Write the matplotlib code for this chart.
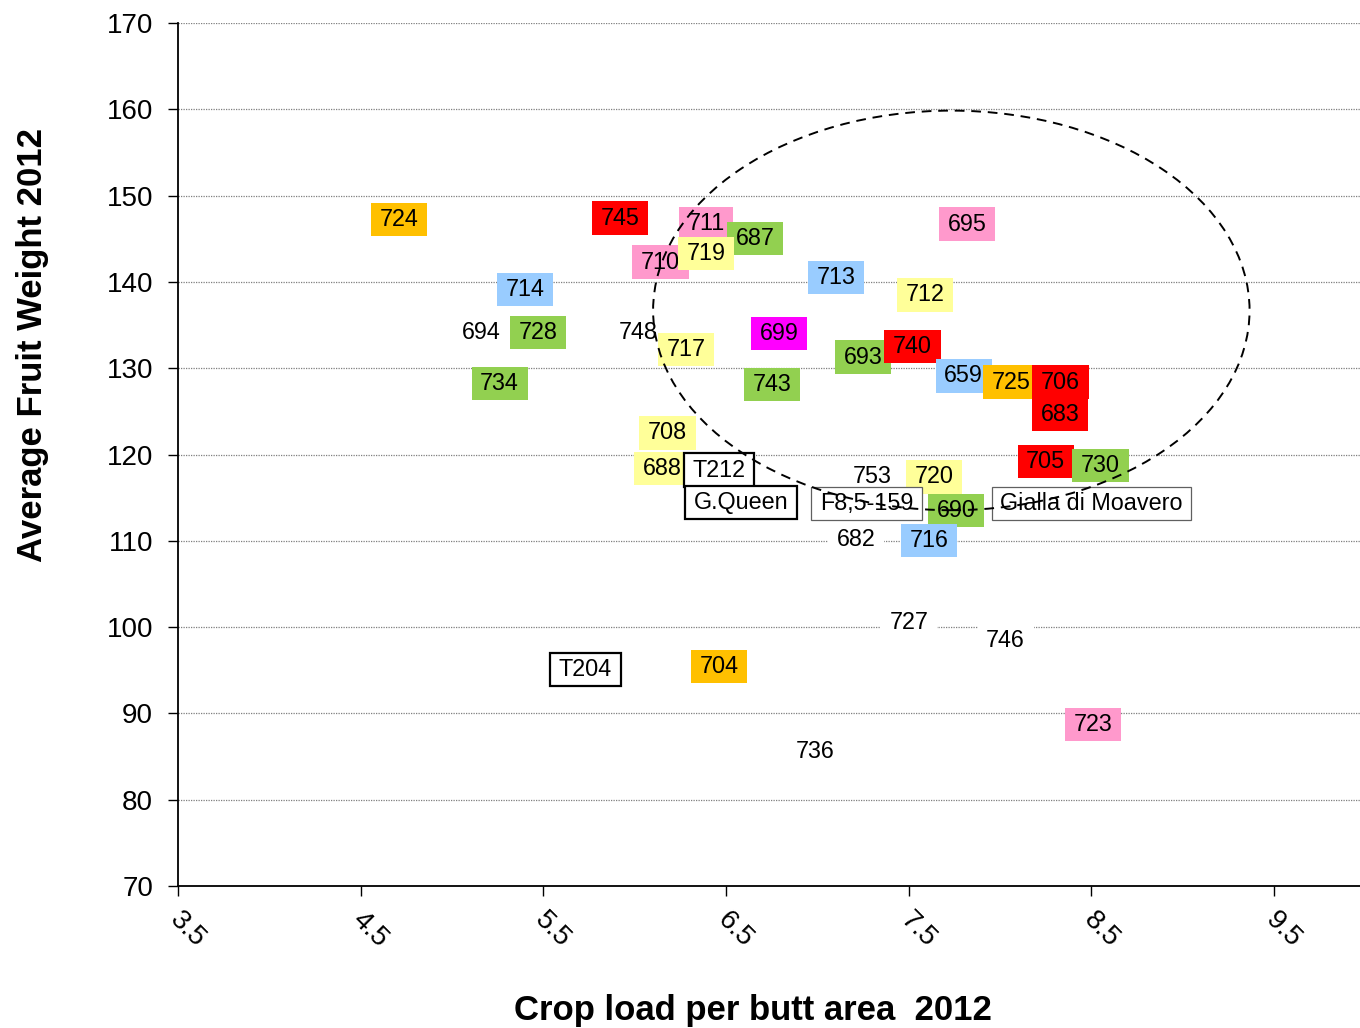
import matplotlib
matplotlib.use("Agg")
import matplotlib.pyplot as plt
import matplotlib.transforms as mtransforms
from matplotlib.patches import Ellipse
from matplotlib.path import Path

plt.rcParams['font.family'] = ['Liberation Sans', 'DejaVu Sans']

# ---- data ----
labels = ["724", "745", "711", "687", "710", "719", "695", "713", "712", "714",
          "694", "728", "748", "717", "699", "693", "740", "734", "743", "659",
          "725", "706", "683", "708", "688", "T212", "G.Queen", "753", "720",
          "F8,5-159", "690", "Gialla di Moavero", "682", "716", "705", "730",
          "727", "746", "T204", "704", "723", "736"]
crop_load = [4.71, 5.92, 6.39, 6.66, 6.14, 6.39, 7.82, 7.10, 7.59, 5.40,
             5.16, 5.47, 6.02, 6.28, 6.79, 7.25, 7.52, 5.26, 6.75, 7.80,
             8.06, 8.33, 8.33, 6.18, 6.15, 6.46, 6.58, 7.30, 7.64,
             7.27, 7.76, 8.50, 7.21, 7.61, 8.25, 8.55,
             7.50, 8.03, 5.73, 6.46, 8.51, 6.99]
fruit_weight = [147.2, 147.4, 146.8, 145.0, 142.3, 143.3, 146.7, 140.5, 138.5, 139.1,
                134.1, 134.1, 134.1, 132.2, 134.0, 131.3, 132.5, 128.2, 128.1, 129.1,
                128.4, 128.4, 124.6, 122.5, 118.4, 118.2, 114.4, 117.5, 117.4,
                114.3, 113.5, 114.3, 110.1, 110.0, 119.2, 118.7,
                100.5, 98.5, 95.1, 95.4, 88.7, 85.6]
group = ["orange", "red", "pink", "green", "pink", "yellow", "pink", "blue", "yellow", "blue",
         "none", "green", "none", "yellow", "magenta", "green", "red", "green", "green", "blue",
         "orange", "red", "red", "yellow", "yellow", "ref", "ref", "none", "yellow",
         "ref2", "green", "ref2", "none", "blue", "red", "green",
         "none", "none", "ref", "orange", "pink", "none"]

# highlighted cluster (ellipse): centre, width, height in data units
ellipse_center = (7.733, 136.7)
ellipse_size = (3.265, 46.3)

x_ticks = [3.5, 4.5, 5.5, 6.5, 7.5, 8.5, 9.5]
y_ticks = [70, 80, 90, 100, 110, 120, 130, 140, 150, 160, 170]

# ---- styles ----
fill_colors = {"orange": "#FFC000", "red": "#FF0000", "pink": "#FF99CC",
               "green": "#92D050", "yellow": "#FFFF99", "blue": "#99CCFF",
               "magenta": "#FF00FF", "none": "white", "ref": "white", "ref2": "white"}


def make_box(padx, pady):
    def box(x0, y0, width, height, mutation_size):
        px = padx * mutation_size
        py = pady * mutation_size
        xa, ya = x0 - px, y0 - py
        xb, yb = x0 + width + px, y0 + height + py
        return Path([(xa, ya), (xb, ya), (xb, yb), (xa, yb), (xa, ya)], closed=True)
    return box


fig = plt.figure(figsize=(13.6, 10.28), dpi=100)
ax = fig.add_axes([0.1309, 0.1381, 0.8691, 0.8395])

ax.set_xlim(3.5, 9.97)
ax.set_ylim(70, 170)
ax.set_xticks(x_ticks)
ax.set_xticklabels([f"{t:.1f}" for t in x_ticks], rotation=-45, ha='left',
                   va='top', rotation_mode='anchor')
ax.set_yticks(y_ticks)
ax.tick_params(axis='both', labelsize=20, length=7, width=1, direction='out',
               colors='black')
ax.tick_params(axis='y', pad=11)
ax.tick_params(axis='x', pad=8)
offset = mtransforms.ScaledTranslation(0.05, 0, fig.dpi_scale_trans)
for lbl in ax.get_xticklabels():
    lbl.set_transform(lbl.get_transform() + offset)

for s in ['top', 'right']:
    ax.spines[s].set_visible(False)
for s in ['left', 'bottom']:
    ax.spines[s].set_linewidth(1.3)
    ax.spines[s].set_color('black')

ax.yaxis.grid(True, color='#7f7f7f', linestyle=(0, (1, 1)), linewidth=0.9)
ax.set_axisbelow(True)

box_fn = make_box(0.37, 0.22)
for lab, x, y, g in zip(labels, crop_load, fruit_weight, group):
    if g == "ref":
        ec, lw = 'black', 1.6
    elif g == "ref2":
        ec, lw = '#606060', 0.9
    else:
        ec, lw = 'none', 0
    ax.text(x, y, lab, fontsize=16.8, ha='center', va='center', color='black',
            zorder=3,
            bbox=dict(boxstyle=box_fn, facecolor=fill_colors[g], edgecolor=ec,
                      linewidth=lw))

ell = Ellipse(ellipse_center, ellipse_size[0], ellipse_size[1], fill=False,
              edgecolor='black', linestyle=(0, (5, 3.5)), linewidth=1.4, zorder=5)
ax.add_patch(ell)

ax.set_xlabel("Crop load per butt area  2012", fontsize=25, fontweight='bold')
ax.set_ylabel("Average Fruit Weight 2012", fontsize=25, fontweight='bold')
ax.xaxis.set_label_coords(0.486, -0.125)
ax.yaxis.set_label_coords(-0.109, 0.627)

fig.savefig("out.png", dpi=100)
